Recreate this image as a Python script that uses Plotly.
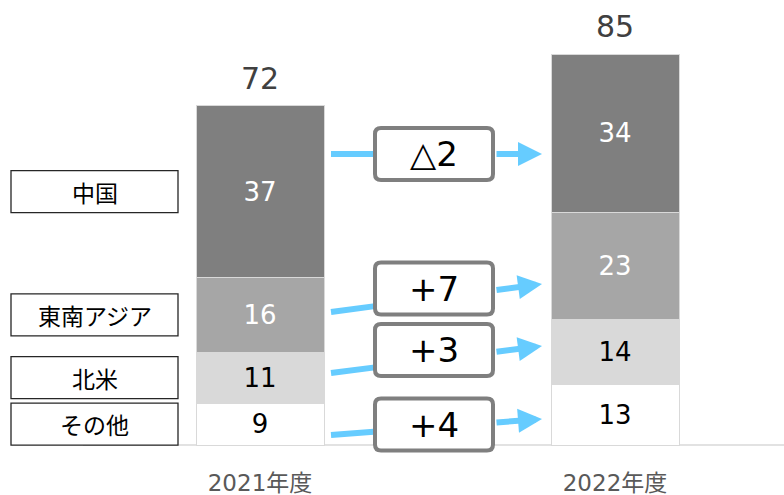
import plotly.graph_objects as go

# ---- data ----
categories = ['2021年度', '2022年度']
regions = ['その他', '北米', '東南アジア', '中国']
values_2021 = [9, 11, 16, 37]
values_2022 = [13, 14, 23, 34]
totals = [72, 85]
change_labels = ['+4', '+3', '+7', '△2']

# ---- styles ----
seg_colors = ['#ffffff', '#d9d9d9', '#a6a6a6', '#7f7f7f']
seg_text_colors = ['#000000', '#000000', '#ffffff', '#ffffff']
FONT = 'DejaVu Sans, Noto Sans CJK JP, sans-serif'
CJK = 'Noto Sans CJK JP, DejaVu Sans, sans-serif'
ARROW = '#66ccff'
BOXLINE = '#7f7f7f'

W, H = 784, 495
X_PX0, X_SCALE = 260.0, 355.0      # pixel of x=0, pixels per x unit
Y_PX0, Y_SCALE = 445.0, 4.65       # pixel of y=0, pixels per y unit


def px2x(px):
    return (px - X_PX0) / X_SCALE


def py2y(py):
    return (Y_PX0 - py) / Y_SCALE


xs = list(range(len(categories)))
fig = go.Figure()
for i, r in enumerate(regions):
    vals = [values_2021[i], values_2022[i]]
    fig.add_trace(go.Bar(
        x=xs, y=vals, name=r,
        marker=dict(color=seg_colors[i], line=dict(color='#d9d9d9', width=1)),
        text=[str(v) for v in vals], textposition='inside',
        insidetextanchor='middle', constraintext='none',
        textfont=dict(size=26, color=seg_text_colors[i], family=FONT),
        width=128 / X_SCALE, showlegend=False, hoverinfo='skip'))

shapes = []
annotations = []

# baseline
shapes.append(dict(type='line', xref='x', yref='y', x0=px2x(83), x1=px2x(W), y0=0, y1=0,
                   line=dict(color='#d9d9d9', width=1.5), layer='below'))

# totals above bars
stack_tops = [sum(values_2021), sum(values_2022)]
for i, t in enumerate(totals):
    annotations.append(dict(x=xs[i], y=stack_tops[i], xref='x', yref='y', text=str(t),
                            showarrow=False, yanchor='bottom', yshift=8,
                            font=dict(size=30, color='#404040', family=FONT)))

# left region label boxes, centred on 2021 segments
cum = 0
lx0, lx1 = px2x(11), px2x(178)
half_h = 21 / Y_SCALE
for i, r in enumerate(regions):
    mid = cum + values_2021[i] / 2
    cum += values_2021[i]
    shapes.append(dict(type='rect', xref='x', yref='y', x0=lx0, x1=lx1,
                       y0=mid - half_h, y1=mid + half_h,
                       line=dict(color='#262626', width=1.3), fillcolor='#ffffff', layer='above'))
    annotations.append(dict(x=(lx0 + lx1) / 2, y=mid, xref='x', yref='y', text=r,
                            showarrow=False, font=dict(size=23, color='#000000', family=CJK)))

# change arrows and boxes (pixel positions of the decorations)
start_px = 331
tip_px = 542
box_l_px, box_r_px = 373, 495
arrow_px = [(435, 419), (373, 346), (312, 284), (154, 154)]   # (start y, tip y)
box_c_px = [424.5, 350, 288.5, 154]
box_half = 28
rx = 6 / X_SCALE
ry = 6 / Y_SCALE

for i, lab in enumerate(change_labels):
    sy, ty = arrow_px[i]

    def yat(px):
        return sy + (ty - sy) * (px - start_px) / (tip_px - start_px)

    # left segment of arrow
    shapes.append(dict(type='line', xref='x', yref='y',
                       x0=px2x(start_px), y0=py2y(sy),
                       x1=px2x(box_l_px + 4), y1=py2y(yat(box_l_px + 4)),
                       line=dict(color=ARROW, width=6), layer='above'))
    # right segment with arrowhead
    annotations.append(dict(x=px2x(tip_px), y=py2y(ty), xref='x', yref='y',
                            ax=px2x(box_r_px), ay=py2y(yat(box_r_px)), axref='x', ayref='y',
                            text='', showarrow=True, arrowhead=2, arrowsize=0.8,
                            arrowwidth=6, arrowcolor=ARROW, standoff=0))
    # rounded box
    x0, x1 = px2x(box_l_px + 2), px2x(box_r_px - 2)
    y1, y0 = py2y(box_c_px[i] - box_half + 2), py2y(box_c_px[i] + box_half - 2)
    path = (f'M{x0 + rx},{y0} L{x1 - rx},{y0} Q{x1},{y0} {x1},{y0 + ry} '
            f'L{x1},{y1 - ry} Q{x1},{y1} {x1 - rx},{y1} L{x0 + rx},{y1} '
            f'Q{x0},{y1} {x0},{y1 - ry} L{x0},{y0 + ry} Q{x0},{y0} {x0 + rx},{y0} Z')
    shapes.append(dict(type='path', xref='x', yref='y', path=path,
                       line=dict(color=BOXLINE, width=4), fillcolor='#ffffff', layer='above'))
    annotations.append(dict(x=(x0 + x1) / 2, y=py2y(box_c_px[i]), xref='x', yref='y', text=lab,
                            showarrow=False, font=dict(size=34, color='#000000', family=FONT)))

fig.update_layout(
    barmode='stack',
    width=W, height=H,
    margin=dict(l=0, r=0, t=0, b=0),
    paper_bgcolor='#ffffff', plot_bgcolor='#ffffff',
    shapes=shapes, annotations=annotations,
    xaxis=dict(range=[px2x(0), px2x(W)], tickvals=xs, ticktext=categories,
               showgrid=False, zeroline=False, showline=False, ticks='',
               anchor='free', position=(H - Y_PX0) / H, ticklabelstandoff=22,
               tickfont=dict(size=23, color='#595959', family=FONT), fixedrange=True),
    yaxis=dict(range=[py2y(H), py2y(0)], visible=False, fixedrange=True),
)

fig.write_html('out.html', config={'displayModeBar': False},
               post_script="document.body.style.margin='0';document.body.style.overflow='hidden';")
